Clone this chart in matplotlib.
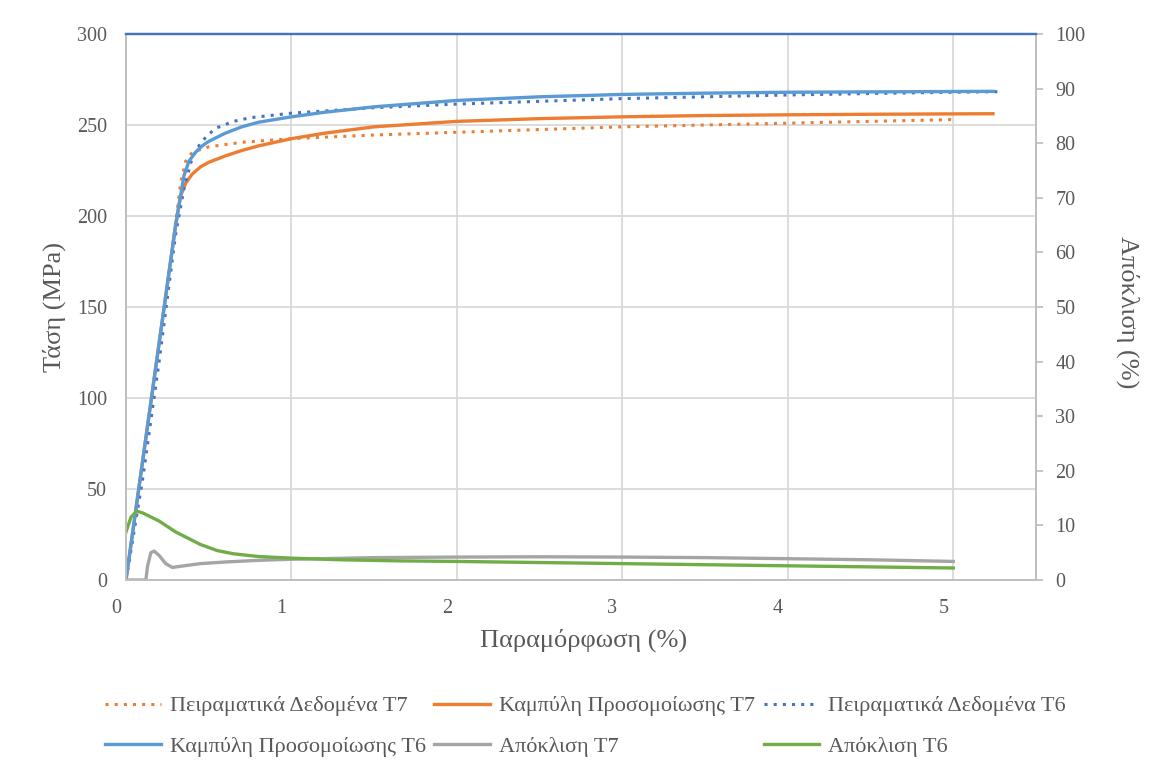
import matplotlib
matplotlib.use("Agg")
import matplotlib.pyplot as plt
import matplotlib.transforms as mtransforms

plt.rcParams['font.family'] = ['Liberation Serif', 'DejaVu Serif']

# Data (strain %, stress MPa / deviation %)
t7_exp_x = [0, 0.1, 0.2, 0.3, 0.33, 0.36, 0.4, 0.5, 0.7, 1.0, 1.5, 2.0, 2.5, 3.0, 3.5, 4.0, 4.5, 5.0]
t7_exp_y = [0, 62, 128, 196, 218, 230, 235, 238, 240.5, 242.5, 244.5, 246, 247.5, 249, 250, 251, 252, 253]

t7_sim_x = [0, 0.1, 0.2, 0.3, 0.33, 0.36, 0.4, 0.45, 0.5, 0.6, 0.7, 0.8, 1.0, 1.2, 1.5, 2.0, 2.5, 3.0, 3.5, 4.0, 4.5, 5.0, 5.24]
t7_sim_y = [0, 65, 130, 195, 211, 218, 223, 227, 229.5, 233, 236, 238.5, 242.5, 245.5, 249, 252, 253.5, 254.5, 255.2, 255.6, 255.9, 256.1, 256.2]

t6_exp_x = [0, 0.1, 0.2, 0.3, 0.35, 0.4, 0.45, 0.5, 0.55, 0.65, 0.75, 1.0, 1.5, 2.0, 2.5, 3.0, 3.5, 4.0, 4.5, 5.0, 5.27]
t6_exp_y = [0, 55, 120, 190, 215, 232, 240, 245, 248.5, 252, 254, 256.5, 259.5, 261.5, 263, 264.5, 265.5, 266.5, 267.3, 268, 268.3]

t6_sim_x = [0, 0.1, 0.2, 0.3, 0.35, 0.38, 0.42, 0.46, 0.5, 0.6, 0.7, 0.8, 1.0, 1.2, 1.5, 2.0, 2.5, 3.0, 3.5, 4.0, 4.5, 5.0, 5.24]
t6_sim_y = [0, 65, 130, 195, 222, 230, 235, 238.5, 241, 245.5, 249, 251.5, 254.5, 257, 260, 263.5, 265.5, 266.8, 267.5, 268, 268.2, 268.4, 268.5]

dev_t7_x = [0, 0.12, 0.13, 0.15, 0.17, 0.2, 0.24, 0.28, 0.35, 0.45, 0.6, 0.8, 1.0, 1.5, 2.0, 2.5, 3.0, 3.5, 4.0, 4.5, 5.0]
dev_t7_y = [0, 0, 2.5, 5.0, 5.3, 4.5, 3.0, 2.3, 2.6, 3.0, 3.3, 3.6, 3.8, 4.1, 4.2, 4.25, 4.2, 4.1, 3.9, 3.7, 3.4]

dev_t6_x = [0, 0.03, 0.065, 0.1, 0.2, 0.3, 0.45, 0.55, 0.65, 0.8, 1.0, 1.3, 1.66, 2.0, 2.5, 3.0, 3.5, 4.0, 4.5, 5.0]
dev_t6_y = [8.8, 11.5, 12.6, 12.3, 10.8, 8.8, 6.5, 5.4, 4.8, 4.3, 4.0, 3.7, 3.5, 3.4, 3.2, 3.0, 2.8, 2.6, 2.4, 2.2]

labels = ["Πειραματικά Δεδομένα T7", "Καμπύλη Προσομοίωσης T7", "Πειραματικά Δεδομένα T6",
          "Καμπύλη Προσομοίωσης T6", "Απόκλιση T7", "Απόκλιση T6"]

C_OR = '#ED7D31'
C_BL = '#5B9BD5'
C_BLD = '#4472C4'
C_GR = '#A5A5A5'
C_GN = '#70AD47'
TXT = '#595959'
GRID = '#D9D9D9'

W, H = 1165, 762
fig = plt.figure(figsize=(W / 100, H / 100), dpi=100)
ax = fig.add_axes([126 / W, 1 - 580 / H, (1036 - 126) / W, (580 - 34) / H])
ax2 = ax.twinx()

ax.set_xlim(0, 5.5)
ax.set_ylim(0, 300)
ax2.set_ylim(0, 100)
ax.set_xticks([0, 1, 2, 3, 4, 5])
ax.set_yticks(range(0, 301, 50))
ax2.set_yticks(range(0, 101, 10))

ax.grid(True, color=GRID, linewidth=1.3)
ax.set_axisbelow(True)

l1, = ax.plot(t7_exp_x, t7_exp_y, color=C_OR, linestyle=(0, (1, 2)), linewidth=2.2)
l2, = ax.plot(t7_sim_x, t7_sim_y, color=C_OR, linewidth=2.4)
l3, = ax.plot(t6_exp_x, t6_exp_y, color=C_BLD, linestyle=(0, (1, 2)), linewidth=2.2)
l4, = ax.plot(t6_sim_x, t6_sim_y, color=C_BL, linewidth=2.4)
l5, = ax2.plot(dev_t7_x, dev_t7_y, color=C_GR, linewidth=2.4)
l6, = ax2.plot(dev_t6_x, dev_t6_y, color=C_GN, linewidth=2.4)

for a in (ax, ax2):
    for s in a.spines.values():
        s.set_color('#BFBFBF')
        s.set_linewidth(1.3)
    a.spines['top'].set_color(C_BLD)
    a.spines['top'].set_linewidth(1.6)

ax.tick_params(axis='y', length=0, labelsize=14.5, labelcolor=TXT, pad=13.5)
ax.tick_params(axis='x', length=0, labelsize=14.5, labelcolor=TXT, pad=14)
ax2.tick_params(axis='y', length=5, color='#BFBFBF', width=1.3, labelsize=14.5, labelcolor=TXT, pad=9)

ax.set_ylabel("Τάση (MPa)", fontsize=19, color=TXT, va='center')
ax.yaxis.set_label_coords(-0.079, 0.5)
ax2.set_ylabel("Απόκλιση (%)", fontsize=19, color=TXT, rotation=-90, va='center')
ax2.yaxis.set_label_coords(1.101, 0.49)
ax.set_xlabel("Παραμόρφωση (%)", fontsize=19, color=TXT, va='center')
ax.xaxis.set_label_coords(0.503, -0.11)

# Excel-like shift of x tick labels slightly left of gridlines
offset = mtransforms.ScaledTranslation(-10 / 100, 0, fig.dpi_scale_trans)
for lab in ax.get_xticklabels():
    lab.set_transform(lab.get_transform() + offset)

handles = [l1, l2, l3, l4, l5, l6]
order = [0, 3, 1, 4, 2, 5]
leg = fig.legend([handles[i] for i in order], [labels[i] for i in order],
                 loc='center', bbox_to_anchor=(0.5026, 0.047), ncol=3, frameon=False,
                 fontsize=16, handlelength=2.5, handletextpad=0.4, columnspacing=0.4,
                 labelspacing=0.88)
for t in leg.get_texts():
    t.set_color(TXT)

fig.savefig("out.png", dpi=100)
